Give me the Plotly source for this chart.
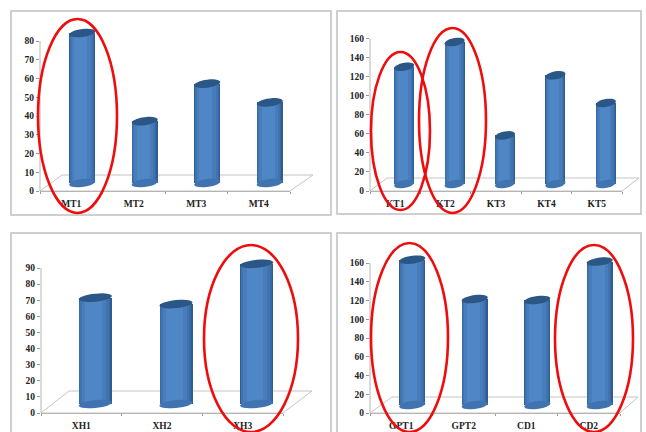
import math
import plotly.graph_objects as go

W, H = 646, 432

mt_labels = ["MT1", "MT2", "MT3", "MT4"]
mt_values = [80, 33, 53, 43]
mt_ticks = [0, 10, 20, 30, 40, 50, 60, 70, 80]

kt_labels = ["KT1", "KT2", "KT3", "KT4", "KT5"]
kt_values = [123, 149, 51, 114, 85]
kt_ticks = [0, 20, 40, 60, 80, 100, 120, 140, 160]

xh_labels = ["XH1", "XH2", "XH3"]
xh_values = [66, 62, 87]
xh_ticks = [0, 10, 20, 30, 40, 50, 60, 70, 80, 90]

cd_labels = ["GPT1", "GPT2", "CD1", "CD2"]
cd_values = [155, 113, 112, 153]
cd_ticks = [0, 20, 40, 60, 80, 100, 120, 140, 160]

# layout of each panel, in pixels of the page
panels = [
    dict(labels=mt_labels, values=mt_values, ticks=mt_ticks, box=(11, 11, 331, 215), x0=40, x1=290,
         y0=191, ytop=41, back=175, dx_left=22, dx_right=23, shift=11, bw=26, base=8, top=14,
         rings=[(38, 19, 117, 213)]),
    dict(labels=kt_labels, values=kt_values, ticks=kt_ticks, box=(337, 11, 641, 214), x0=370, x1=622,
         y0=191, ytop=38.5, back=178, dx_left=17, dx_right=17, shift=9, bw=20, base=7, top=14,
         rings=[(371, 52, 430, 210), (419, 28, 486, 213)]),
    dict(labels=xh_labels, values=xh_values, ticks=xh_ticks, box=(11, 233, 331, 440), x0=41, x1=283,
         y0=413, ytop=268, back=391, dx_left=28, dx_right=29, shift=14, bw=33, base=9, top=236,
         rings=[(204, 245, 298, 432)]),
    dict(labels=cd_labels, values=cd_values, ticks=cd_ticks, box=(337, 233, 641, 440), x0=370, x1=620,
         y0=413, ytop=263, back=397, dx_left=22, dx_right=18, shift=11, bw=26, base=8, top=236,
         rings=[(371, 243, 448, 432), (555, 245, 633, 432)]),
]

# gradient bands of a cylinder: (centre offset, width), as fractions of its width
bands = [(0.0, 1.0, "#2f5d92"), (-0.02, 0.94, "#386aa3"), (-0.03, 0.86, "#4074b0"),
         (-0.04, 0.72, "#487dbb"), (-0.05, 0.50, "#4f86c6")]
CAP = "#2b5787"
RING = "#ee0c0c"
FONT = dict(family="Liberation Serif", size=9.5, color="#222222", weight="bold")

fx = lambda px: px / W
fy = lambda py: 1 - py / H

fig = go.Figure()
shapes = []
layout = {}


def ellipse_path(cx, cy, rx, ry, tilt):
    pts = []
    for k in range(28):
        t = 2 * math.pi * k / 28
        px = rx * math.cos(t)
        py = ry * math.sin(t)
        pts.append((cx + px, cy + py + tilt * px))
    return pts


for i, p in enumerate(panels, start=1):
    xa, ya = ("x", "y") if i == 1 else (f"x{i}", f"y{i}")
    n = len(p["labels"])
    step = (p["x1"] - p["x0"]) / n
    ymax_tick = p["ticks"][-1]
    scale = (p["y0"] - p["ytop"]) / ymax_tick
    ymax = (p["y0"] - p["top"]) / scale
    base = p["base"] / scale
    shift = p["shift"] / step
    w = p["bw"] / step
    xs = list(range(n))

    for off, frac, col in bands:
        fig.add_trace(go.Bar(
            x=[c + shift + off * w for c in xs],
            y=p["values"],
            base=[base] * n,
            width=[w * frac] * n,
            marker=dict(color=col, line=dict(width=0)),
            xaxis=xa, yaxis=ya, showlegend=False, hoverinfo="skip",
        ))

    suffix = "" if i == 1 else str(i)
    layout[f"xaxis{suffix}"] = dict(
        domain=[fx(p["x0"]), fx(p["x1"])], range=[-0.5, n - 0.5], anchor=ya,
        tickmode="array", tickvals=xs, ticktext=p["labels"], ticks="", showgrid=False, zeroline=False,
        showline=True, linecolor="#b5b5b5", linewidth=1, ticklabelstandoff=4,
        minor=dict(tickmode="array", tickvals=[c - 0.5 for c in range(n + 1)], ticks="outside",
                   ticklen=2, tickcolor="#999999", showgrid=False),
        tickfont=FONT,
    )
    layout[f"yaxis{suffix}"] = dict(
        domain=[fy(p["y0"]), fy(p["top"])], range=[0, ymax], anchor=xa,
        tickmode="array", tickvals=p["ticks"], ticks="outside", ticklen=3, tickcolor="#999999",
        showgrid=False, zeroline=False, showline=False,
        tickfont=FONT,
    )

    # panel frame
    x0b, y0b, x1b, y1b = p["box"]
    shapes.append(dict(type="rect", xref="paper", yref="paper", x0=fx(x0b), x1=fx(x1b), y0=fy(y1b), y1=fy(y0b),
                       line=dict(color="#c0c0c0", width=1.5), layer="below"))
    # y axis line up to the last tick
    shapes.append(dict(type="line", xref=f"{xa} domain", yref=ya, x0=0, x1=0, y0=0, y1=ymax_tick,
                       line=dict(color="#b5b5b5", width=1), layer="below"))
    # floor of the 3D box
    fl = (f"M {fx(p['x0'])},{fy(p['y0'])} L {fx(p['x1'])},{fy(p['y0'])} "
          f"L {fx(p['x1'] + p['dx_right'])},{fy(p['back'])} L {fx(p['x0'] + p['dx_left'])},{fy(p['back'])} Z")
    shapes.append(dict(type="path", xref="paper", yref="paper", path=fl,
                       line=dict(color="#c4c4c4", width=1), fillcolor="white", layer="below"))

    # cylinder ends, in data units of this panel
    for c, v in zip(xs, p["values"]):
        rx = w / 2
        ry = 4 / scale
        tilt = (1.6 / scale) / rx
        cx = c + shift
        top = ellipse_path(cx, base + v, rx, ry, tilt)
        bot = ellipse_path(cx, base, rx, ry, tilt)
        for pts, col, lay in ((bot, "#4074b0", "above"), (top, CAP, "above")):
            path = "M " + " L ".join(f"{a},{b}" for a, b in pts) + " Z"
            shapes.append(dict(type="path", xref=xa, yref=ya, path=path, fillcolor=col,
                               line=dict(width=0), layer=lay))

    # red rings
    for (a, b, c, d) in p["rings"]:
        shapes.append(dict(type="circle", xref="paper", yref="paper", x0=fx(a), x1=fx(c), y0=fy(d), y1=fy(b),
                           line=dict(color=RING, width=2.6), layer="above"))

fig.update_layout(
    width=W, height=H, margin=dict(l=0, r=0, t=0, b=0, autoexpand=False), barmode="overlay", bargap=0,
    paper_bgcolor="white", plot_bgcolor="rgba(0,0,0,0)", shapes=shapes, showlegend=False, **layout,
)
fig.write_html(
    "out.html",
    post_script=("document.documentElement.style.overflow='hidden';"
                 "document.body.style.margin='0';document.body.style.overflow='hidden';"),
    config={"displayModeBar": False},
)
